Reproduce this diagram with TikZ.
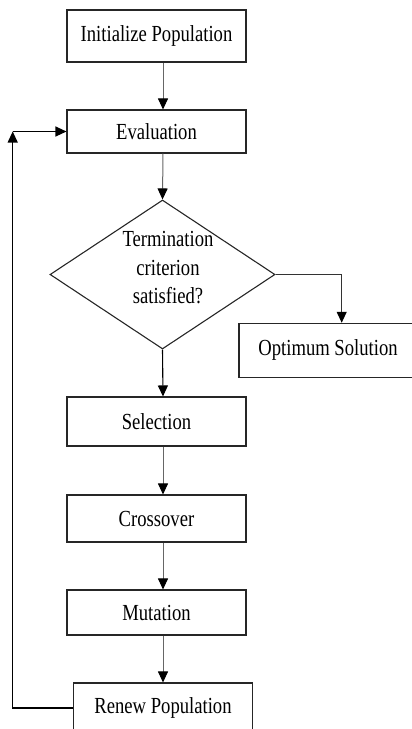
\documentclass[tikz,border=0pt]{standalone}
\usepackage{fontspec}
\setmainfont[FakeStretch=0.81]{Liberation Serif}
\usetikzlibrary{arrows.meta, shapes.geometric}

\begin{document}
\begin{tikzpicture}[x=1pt, y=-1pt, >={Triangle[length=11pt, width=10pt, color=black]},
  font=\fontsize{23}{28.5}\selectfont]

\tikzset{
  box/.style={draw=black!85, line width=1.1pt, minimum width=179pt, inner sep=0pt},
  flow/.style={->, black!60, line width=1pt},
  back/.style={->, black, line width=1.1pt}
}

\useasboundingbox (0,0) rectangle (412,729);
\clip (0,0) rectangle (412,729);

%-- process boxes
\node[box, minimum height=52pt] (init)  at (156.5,36)    {Initialize Population};
\node[box, minimum height=43pt] (eval)  at (156.5,131.5) {Evaluation};
\node[box, minimum height=49pt] (sel)   at (156.5,421.5) {Selection};
\node[box, minimum height=47pt] (cross) at (156.5,518.5) {Crossover};
\node[box, minimum height=45pt] (mut)   at (156.5,612.5) {Mutation};
\node[box, minimum height=50pt] (renew) at (163,708)     {Renew Population};
\node[box, minimum width=178pt, minimum height=54pt] (opt) at (328,350.3) {Optimum Solution};

%-- decision
\node[diamond, draw=black!85, line width=1.1pt, minimum width=225pt, minimum height=149pt,
  inner sep=0pt] (check) at (162.5,274.5) {};
\node[align=center] (checktext) at (168,268) {Termination\\criterion\\satisfied?};

%-- main flow
\coordinate (ax) at (163,0);
\draw[flow] (init.south -| ax) -- (eval.north -| ax);
\draw[flow] (eval.south -| ax) -- (check.north);
\draw[back] (check.south) -- (sel.north -| ax);
\draw[flow] (sel.south -| ax) -- (cross.north -| ax);
\draw[flow] (cross.south -| ax) -- (mut.north -| ax);
\draw[flow] (mut.south -| ax) -- (renew.north);

%-- exit branch
\draw[back, black!80] (check.east) -| ([xshift=13.7pt]opt.north);

%-- loop back to evaluation
\coordinate (corner) at (12.7,131.5);
\draw[back] (renew.west) -| (corner);
\draw[back] (corner) -- (eval.west);

\end{tikzpicture}
\end{document}
